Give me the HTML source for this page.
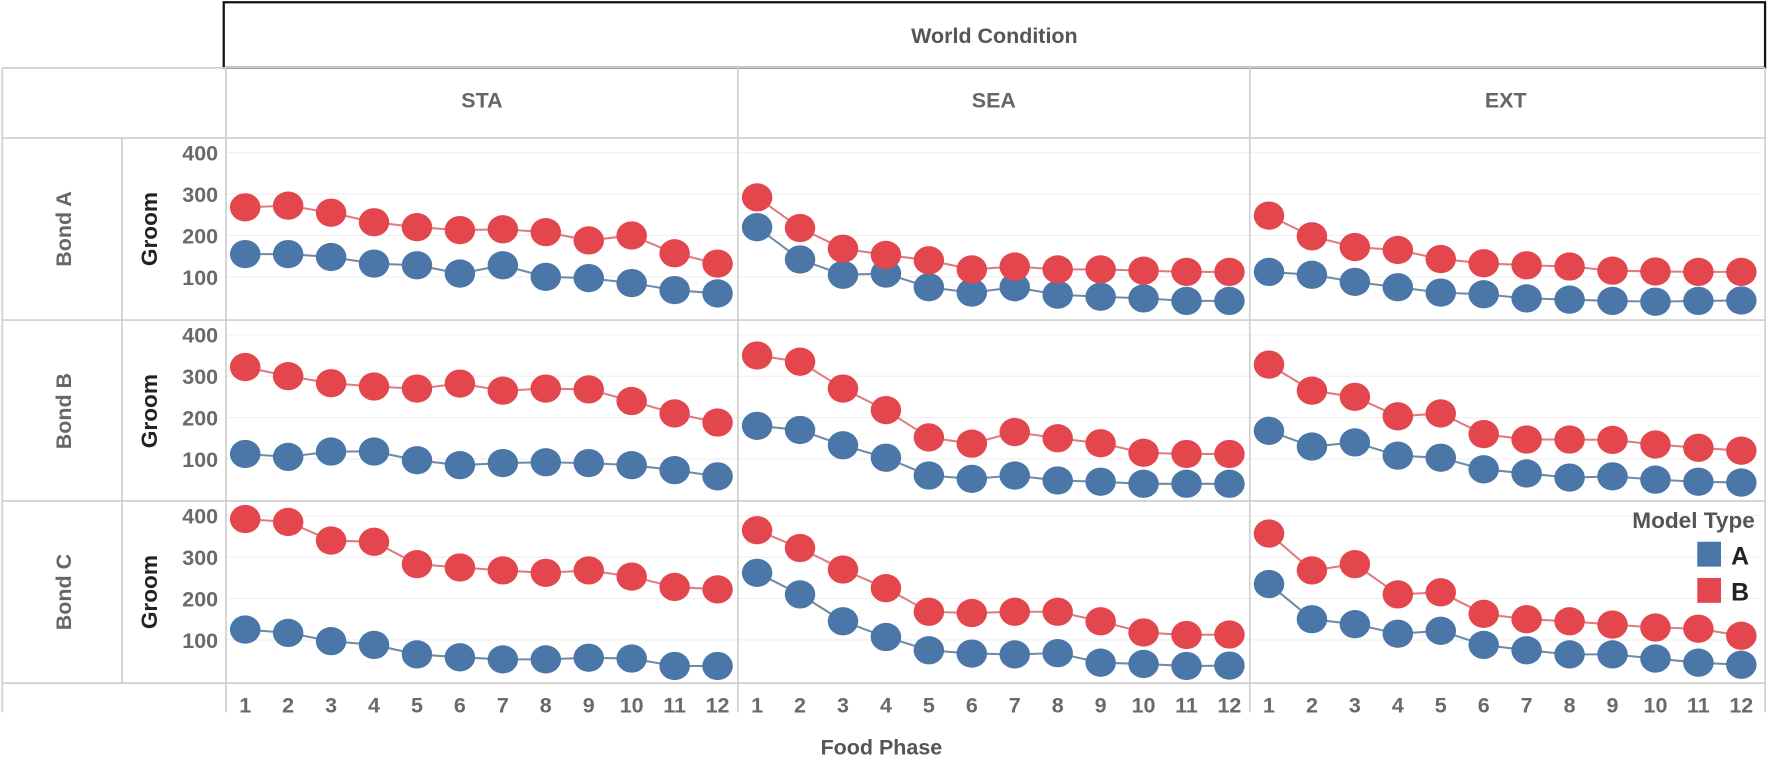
<!DOCTYPE html>
<html><head><meta charset="utf-8">
<style>
html,body{margin:0;padding:0;background:#fff;}
svg{display:block;font-family:"Liberation Sans",Arial,sans-serif;}
</style></head>
<body>
<svg id="chart" width="1772" height="761" viewBox="0 0 1772 761" xmlns="http://www.w3.org/2000/svg">
<g transform="scale(1.130,1.131)">
<rect x="198" y="2" width="1364" height="58" fill="#fff" stroke="#111" stroke-width="2"/>
<text x="880" y="38" text-anchor="middle" font-size="19" font-weight="bold" fill="#555">World Condition</text>
<text x="780" y="667" text-anchor="middle" font-size="19" font-weight="bold" fill="#555">Food Phase</text>
<g id="grid"></g>
<g id="marks"></g>
<g>
<text x="1553" y="467" text-anchor="end" font-size="20" font-weight="bold" fill="#555">Model Type</text>
<rect x="1502" y="479" width="21" height="22" fill="#4a76a8"/>
<text x="1532" y="499" font-size="22" font-weight="bold" fill="#222">A</text>
<rect x="1502" y="511" width="21" height="22" fill="#e4464e"/>
<text x="1532" y="531" font-size="22" font-weight="bold" fill="#222">B</text>
</g>
</g>
</svg>
<script>
const columns = ["STA","SEA","EXT"];
const rows = ["Bond A","Bond B","Bond C"];
const phases = [1,2,3,4,5,6,7,8,9,10,11,12];
const yTicks = [100,200,300,400];
// series: [row][col]
const seriesA = [
 [[155,155,148,132,128,108,128,100,97,85,68,60],[220,142,105,108,75,62,75,57,52,48,42,42],[112,105,88,75,62,58,48,45,42,40,42,43]],
 [[112,105,118,118,97,85,90,92,90,85,73,58],[180,170,133,103,60,52,60,48,45,40,40,40],[168,130,140,108,103,75,65,55,58,50,45,43]],
 [[125,117,97,88,65,58,53,53,57,55,37,37],[262,210,145,107,75,67,65,68,45,42,37,38],[235,150,138,115,122,88,75,65,65,55,45,40]]
];
const seriesB = [
 [[268,272,255,232,220,213,215,208,188,200,157,132],[292,218,168,153,140,118,125,118,118,115,112,112],[248,198,172,165,143,133,128,125,115,113,112,112]],
 [[322,300,283,275,270,282,265,270,268,240,210,188],[350,335,270,218,152,137,165,150,138,115,112,112],[328,265,250,203,210,160,147,147,146,135,127,120]],
 [[392,385,340,337,283,275,268,262,268,253,228,222],[365,322,270,225,168,165,168,168,145,118,112,113],[357,268,283,210,215,163,150,145,137,130,127,110]]
];
const NS="http://www.w3.org/2000/svg";
const colX=[200,653,1106], colW=453, rowY=[122,283,443], rowH=161;
function xScale(c,p){return colX[c]+17+(p-1)*38;}
function yScale(r,v){return rowY[r]+13+(400-v)*0.366;}
function mk(tag,attrs,parent){const e=document.createElementNS(NS,tag);for(const k in attrs)e.setAttribute(k,attrs[k]);parent.appendChild(e);return e;}
const grid=document.getElementById('grid'), marks=document.getElementById('marks');
rows.forEach((rn,r)=>{
 columns.forEach((cn,c)=>{
  yTicks.forEach(t=>{
   const l=mk('line',{x1:colX[c],x2:colX[c]+colW,y1:yScale(r,t),y2:yScale(r,t),stroke:'#efefef','stroke-width':1},grid);
   
   
  });
 });
 yTicks.forEach(t=>{
  const tx=mk('text',{x:193,y:yScale(r,t)+7,'text-anchor':'end','font-size':19,'font-weight':'bold',fill:'#6a6a6a'},grid);
  tx.textContent=t;
  
  
 });
 const cy=rowY[r]+rowH/2;
 const b=mk('text',{x:0,y:0,transform:`translate(63,${cy}) rotate(-90)`,'text-anchor':'middle','font-size':19,'font-weight':'bold',fill:'#666'},grid);
 b.textContent=rn;
 
 
 const g=mk('text',{x:0,y:0,transform:`translate(139,${cy}) rotate(-90)`,'text-anchor':'middle','font-size':20,'font-weight':'bold',fill:'#222'},grid);
 g.textContent='Groom';
 
 
});
columns.forEach((cn,c)=>{
 const t=mk('text',{x:colX[c]+colW/2,y:95,'text-anchor':'middle','font-size':19,'font-weight':'bold',fill:'#666'},grid);
 t.textContent=cn;
 
 
 phases.forEach(p=>{
  const x=mk('text',{x:xScale(c,p),y:630,'text-anchor':'middle','font-size':19,'font-weight':'bold',fill:'#6a6a6a'},grid);
  x.textContent=p;
  
  
 });
});
const L=[[2,60,1562,60],[2,122,1562,122],[2,283,1562,283],[2,443,1562,443],[2,604,1562,604],
 [2,60,2,630],[108,122,108,604],[200,60,200,630],[653,60,653,630],[1106,60,1106,630],[1562,60,1562,630]];
L.forEach(a=>{
 const l=mk('line',{x1:a[0],y1:a[1],x2:a[2],y2:a[3],stroke:'#cfcfcf','stroke-width':1.5},grid);
 
 
});
function drawSeries(data,color,line,name){
 rows.forEach((rn,r)=>columns.forEach((cn,c)=>{
  const vals=data[r][c];
  const pts=vals.map((v,i)=>xScale(c,phases[i])+','+yScale(r,v)).join(' ');
  const pl=mk('polyline',{points:pts,fill:'none',stroke:line,'stroke-width':1.8},marks);
  
  
  vals.forEach((v,i)=>{
   const e=mk('ellipse',{cx:xScale(c,phases[i]),cy:yScale(r,v),rx:13.5,ry:12.5,fill:color},marks);
   
   
  });
 }));
}
drawSeries(seriesA,'#4a76a8','#6f8aa6','model-a');
drawSeries(seriesB,'#e4464e','#e07a80','model-b');
</script>
</body></html>
